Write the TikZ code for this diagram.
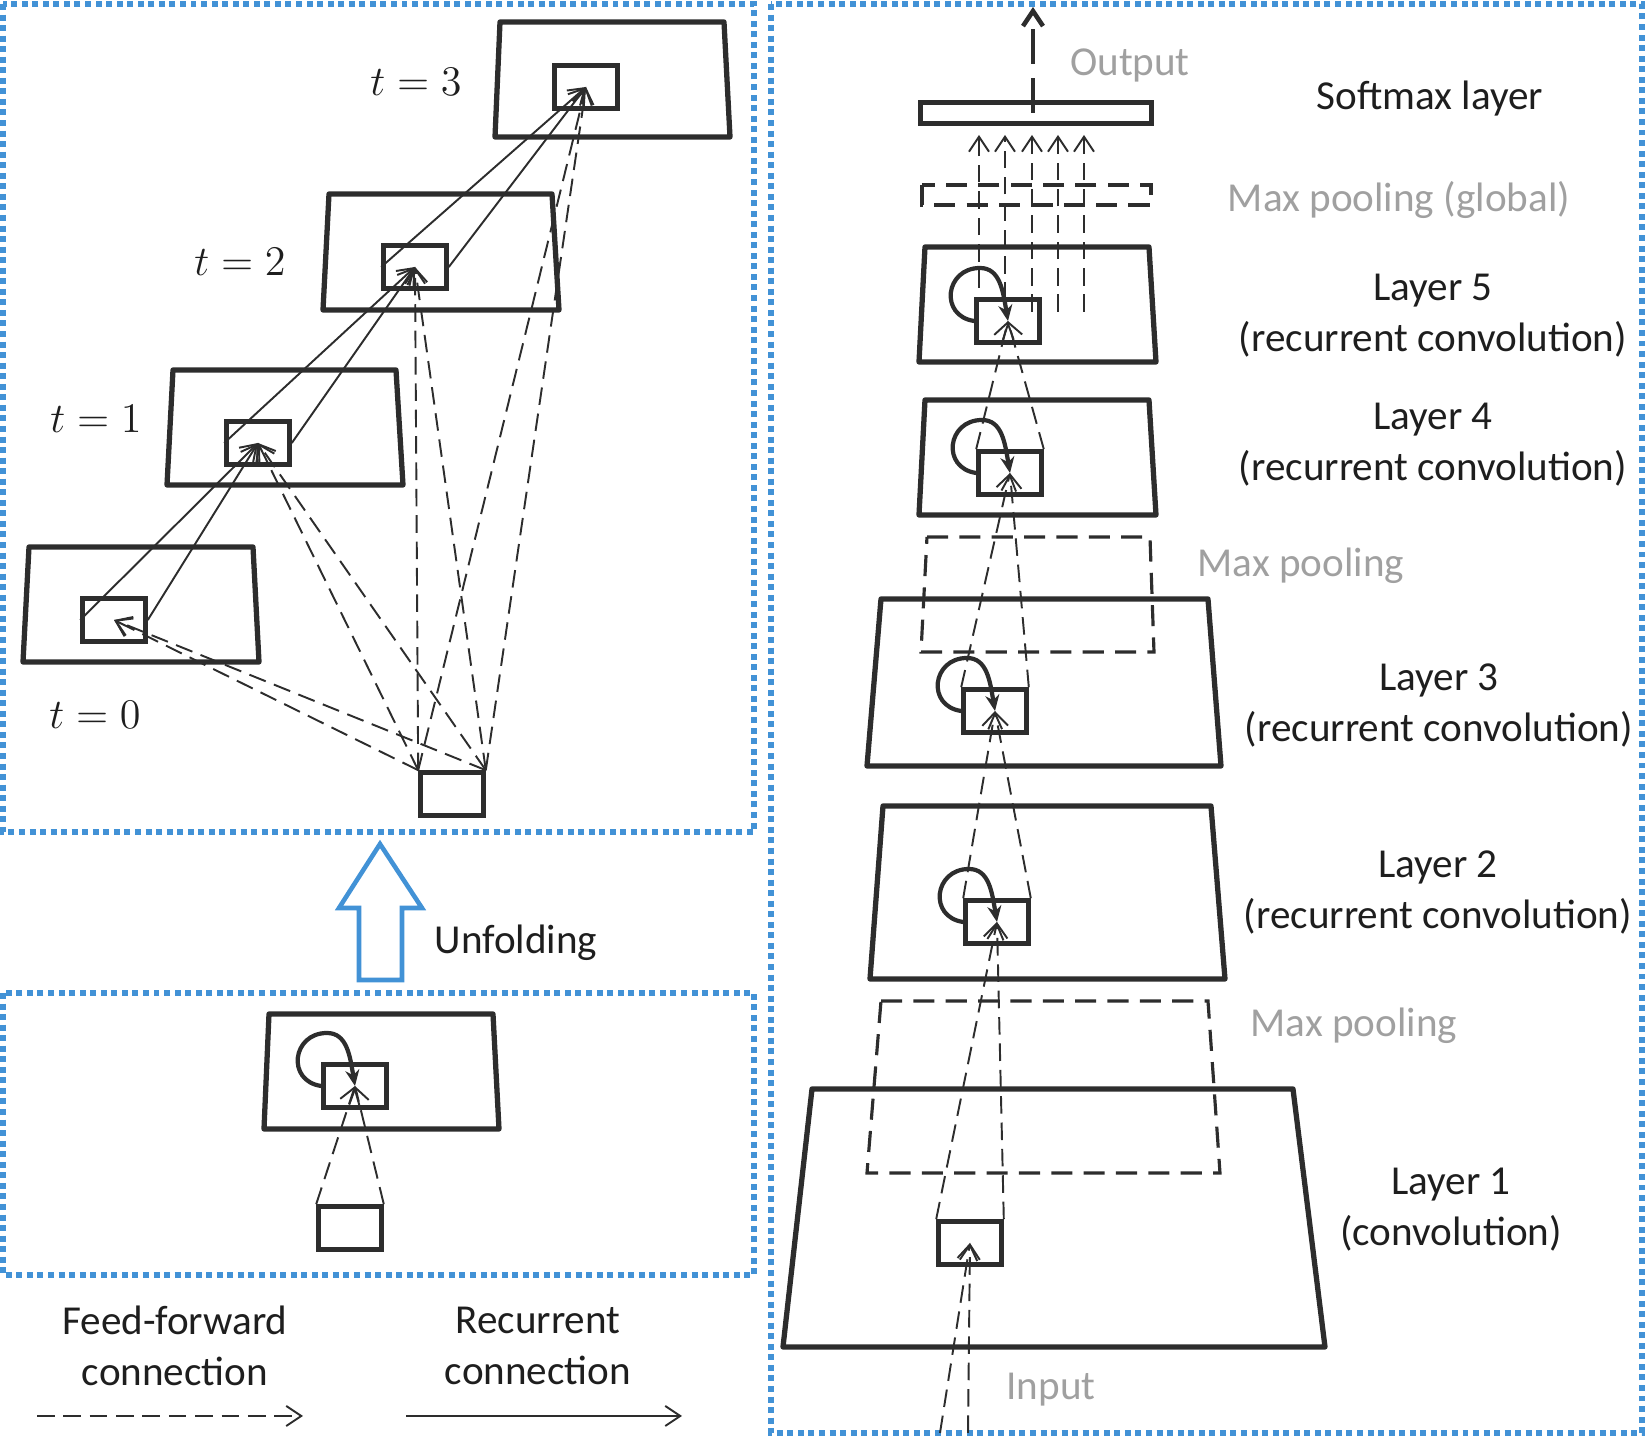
\documentclass[tikz,border=0pt]{standalone}
\usepackage{fontspec}
\setmainfont{Carlito}
\usetikzlibrary{arrows.meta}
\definecolor{linecol}{RGB}{45,45,45}
\definecolor{txtcol}{RGB}{30,30,30}
\definecolor{graycol}{RGB}{160,160,160}
\definecolor{framecol}{RGB}{66,146,214}

\begin{document}
\begin{tikzpicture}[x=0.01cm,y=-0.01cm]
\tikzstyle{panel}=[draw=framecol, line width=1.6pt, dash pattern=on 1.7pt off 1.3pt]
\tikzstyle{plane}=[draw=linecol, line width=1.5pt, line join=round]
\tikzstyle{pool}=[draw=linecol, line width=0.9pt, dash pattern=on 6pt off 3.2pt]
\tikzstyle{unit}=[rectangle, draw=linecol, line width=1.3pt, minimum width=0.63cm, minimum height=0.43cm, inner sep=0pt]
\tikzstyle{ff}=[draw=linecol, line width=0.55pt, dash pattern=on 5pt off 2.5pt, -{Straight Barb[length=1.5mm,width=2mm]}]
\tikzstyle{rec}=[draw=linecol, line width=0.55pt, -{Straight Barb[length=1.5mm,width=2mm]}]
\tikzstyle{selfloop}=[draw=linecol, line width=1.2pt, -{Stealth[length=1.6mm,width=1.4mm]}]
\tikzstyle{lbl}=[text=txtcol, font=\fontsize{11.7}{14.5}\selectfont, align=center, inner sep=0pt]
\tikzstyle{glbl}=[lbl, text=graycol]

\useasboundingbox (0,0) rectangle (1650,1440);

% panels
\draw[panel] (3,4) rectangle (754,832);
\draw[panel] (3,993) rectangle (754,1275);
\draw[panel] (771,4) rectangle (1642,1433);

% unfolded in time
\draw[plane] (500,22) -- (724,22) -- (730,137) -- (495,137) -- cycle;
\draw[plane] (329,194) -- (552,194) -- (559,310) -- (323,310) -- cycle;
\draw[plane] (173,370) -- (396,370) -- (403,485) -- (167,485) -- cycle;
\draw[plane] (29,547) -- (253,547) -- (259,662) -- (23,662) -- cycle;

\node[unit] (t3) at (586,87) {};
\node[unit] (t2) at (415,267) {};
\node[unit] (t1) at (258,443) {};
\node[unit] (t0) at (114,620) {};
\node[unit] (xin) at (452,794) {};

\node[lbl] (lt3) at (416,82) {$t = 3$};
\node[lbl] (lt2) at (240,262) {$t = 2$};
\node[lbl] (lt1) at (96,419) {$t = 1$};
\node[lbl] (lt0) at (95,715) {$t = 0$};

\draw[rec] (t0.west) -- (t1.center);
\draw[rec] (t0.east) -- (t1.center);
\draw[rec] (t1.west) -- (t2.center);
\draw[rec] (t1.east) -- (t2.center);
\draw[rec] (t2.west) -- (t3.center);
\draw[rec] (t2.east) -- (t3.center);

\draw[ff] (xin.north west) -- (t0.center);
\draw[ff] (xin.north east) -- (t0.center);
\draw[ff] (xin.north west) -- (t1.center);
\draw[ff] (xin.north east) -- (t1.center);
\draw[ff] (xin.north west) -- (t2.center);
\draw[ff] (xin.north east) -- (t2.center);
\draw[ff] (xin.north west) -- (t3.center);
\draw[ff] (xin.north east) -- (t3.center);

% unfolding arrow
\draw[draw=framecol, line width=1.3pt, fill=white] (380,844) -- (422,908) -- (402,908) -- (402,980) -- (359,980) -- (359,908) -- (339,908) -- cycle;
\node[lbl] (unf) at (516,943) {Unfolding};

% folded
\draw[plane] (269,1014) -- (493,1014) -- (499,1129) -- (264,1129) -- cycle;
\node[unit] (fold) at (355,1086) {};
\node[unit] (fin) at (350,1228) {};
\draw[ff] (fin.north west) -- (fold.center);
\draw[ff] (fin.north east) -- (fold.center);
\draw[selfloop] (fold.west) .. controls +(-35,-5) and +(-35,0) .. ([shift={(-28,-53)}]fold.center) .. controls +(20,0) and +(-5,-30) .. (fold.center);

% legend
\node[lbl] (lff) at (175,1346) {Feed-forward\\connection};
\node[lbl] (lrc) at (538,1346) {Recurrent\\connection};
\coordinate (ffa) at (37,1416);
\coordinate (ffb) at (303,1416);
\coordinate (rca) at (406,1416);
\coordinate (rcb) at (682,1416);
\draw[ff] (ffa) -- (ffb);
\draw[rec] (rca) -- (rcb);

% network
\draw[plane] (812,1089) -- (1293,1089) -- (1325,1347) -- (783,1347) -- cycle;
\draw[pool] (881,1001) -- (1208,1001) -- (1220,1173) -- (867,1173) -- cycle;
\draw[plane] (883,806) -- (1211,806) -- (1225,979) -- (870,979) -- cycle;
\draw[plane] (881,599) -- (1208,599) -- (1221,766) -- (867,766) -- cycle;
\draw[pool] (927,537) -- (1150,537) -- (1154,652) -- (921,652) -- cycle;
\draw[plane] (925,400) -- (1149,400) -- (1156,515) -- (919,515) -- cycle;
\draw[plane] (925,247) -- (1149,247) -- (1156,362) -- (919,362) -- cycle;
\draw[pool] (922,185) rectangle (1151,205);

\node[unit] (l1) at (970,1243) {};
\node[unit] (l2) at (997,922) {};
\node[unit] (l3) at (995,711) {};
\node[unit] (l4) at (1010,473) {};
\node[unit] (l5) at (1008,321) {};
\node[rectangle, draw=linecol, line width=1.3pt, minimum width=2.31cm, minimum height=0.21cm, inner sep=0pt] (soft) at (1036,113) {};

\coordinate (in1) at (940,1433);
\coordinate (in2) at (968,1433);
\draw[ff] (in1) -- (l1.center);
\draw[ff] (in2) -- (l1.center);
\draw[ff] (l1.north west) -- (l2.center);
\draw[ff] (l1.north east) -- (l2.center);
\draw[ff] (l2.north west) -- (l3.center);
\draw[ff] (l2.north east) -- (l3.center);
\draw[ff] (l3.north west) -- (l4.center);
\draw[ff] (l3.north east) -- (l4.center);
\draw[ff] (l4.north west) -- (l5.center);
\draw[ff] (l4.north east) -- (l5.center);

\draw[selfloop] (l2.west) .. controls +(-35,-5) and +(-35,0) .. ([shift={(-28,-53)}]l2.center) .. controls +(20,0) and +(-5,-30) .. (l2.center);
\draw[selfloop] (l3.west) .. controls +(-35,-5) and +(-35,0) .. ([shift={(-28,-53)}]l3.center) .. controls +(20,0) and +(-5,-30) .. (l3.center);
\draw[selfloop] (l4.west) .. controls +(-35,-5) and +(-35,0) .. ([shift={(-28,-53)}]l4.center) .. controls +(20,0) and +(-5,-30) .. (l4.center);
\draw[selfloop] (l5.west) .. controls +(-35,-5) and +(-35,0) .. ([shift={(-28,-53)}]l5.center) .. controls +(20,0) and +(-5,-30) .. (l5.center);

\coordinate (p1) at (979,288);
\coordinate (p2) at (1005,300);
\coordinate (p3) at (1032,312);
\coordinate (p4) at (1058,312);
\coordinate (p5) at (1084,312);
\draw[ff, shorten >=2.6pt] (p1) -- (p1 |- soft.south);
\draw[ff, shorten >=2.6pt] (p2) -- (p2 |- soft.south);
\draw[ff, shorten >=2.6pt] (p3) -- (p3 |- soft.south);
\draw[ff, shorten >=2.6pt] (p4) -- (p4 |- soft.south);
\draw[ff, shorten >=2.6pt] (p5) -- (p5 |- soft.south);

\coordinate (out) at (1033,7);
\draw[ff, line width=1.3pt, dash pattern=on 10pt off 4pt] (soft.center -| out) -- (out);

% labels
\node[glbl] (lout) at (1130,65) {Output};
\node[lbl] (lsoft) at (1430,99) {Softmax layer};
\node[glbl] (lgp) at (1399,200) {Max pooling (global)};
\node[lbl] (ll5) at (1433,316) {Layer 5\\(recurrent convolution)};
\node[lbl] (ll4) at (1433,445) {Layer 4\\(recurrent convolution)};
\node[glbl] (lmp2) at (1301,566) {Max pooling};
\node[lbl] (ll3) at (1439,706) {Layer 3\\(recurrent convolution)};
\node[lbl] (ll2) at (1438,893) {Layer 2\\(recurrent convolution)};
\node[glbl] (lmp1) at (1354,1026) {Max pooling};
\node[lbl] (ll1) at (1451,1210) {Layer 1\\(convolution)};
\node[glbl] (lin) at (1051,1390) {Input};
\end{tikzpicture}
\end{document}
